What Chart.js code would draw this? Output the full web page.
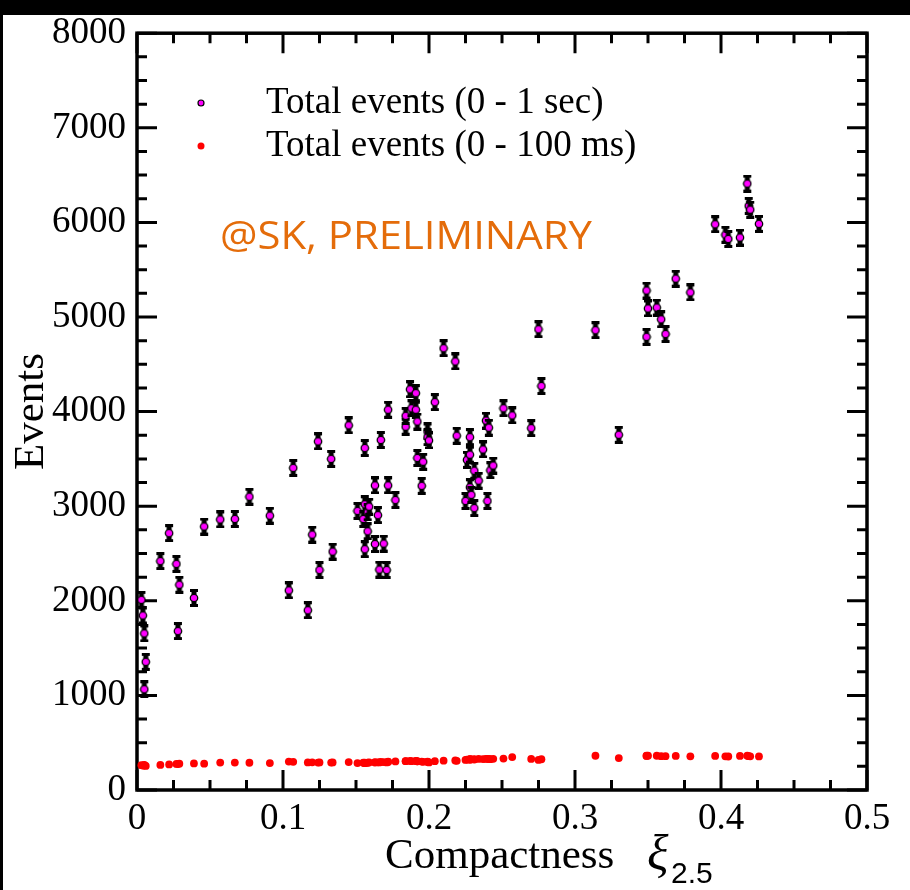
<!DOCTYPE html>
<html>
<head>
<meta charset="utf-8">
<script src="https://cdn.jsdelivr.net/npm/chart.js@4.4.1/dist/chart.umd.min.js"></script>
<style>
  html, body { margin: 0; padding: 0; background: #fff; }
  #wrap { position: relative; width: 910px; height: 890px; overflow: hidden; }
  #myChart { position: absolute; left: 0; top: 0; }
  .bar { position: absolute; background: #000; }
</style>
</head>
<body>
<div id="wrap">
  <canvas id="myChart" width="910" height="890"></canvas>
  <div class="bar" style="left:0;top:0;width:910px;height:15px"></div>
  <div class="bar" style="left:0;top:0;width:3px;height:890px"></div>
</div>
<script>
// compactness xi_2.5 of each model
const compactness = [
  0.003, 0.004, 0.005, 0.006, 0.005, 0.016, 0.022, 0.027, 0.029, 0.028,
  0.039, 0.046, 0.057, 0.067, 0.077, 0.091, 0.104, 0.107, 0.117, 0.120,
  0.124, 0.125, 0.133, 0.134, 0.145, 0.151, 0.155, 0.156, 0.156, 0.156,
  0.158, 0.158, 0.159, 0.163, 0.163, 0.165, 0.166, 0.167, 0.169, 0.171,
  0.172, 0.172, 0.177, 0.184, 0.184, 0.187, 0.188, 0.191, 0.191, 0.192,
  0.192, 0.195, 0.196, 0.199, 0.199, 0.200, 0.204, 0.210, 0.218, 0.219,
  0.225, 0.226, 0.228, 0.228, 0.228, 0.229, 0.231, 0.231, 0.234, 0.237,
  0.239, 0.240, 0.241, 0.242, 0.244, 0.251, 0.257, 0.270, 0.275, 0.277,
  0.314, 0.330, 0.349, 0.349, 0.350, 0.356, 0.359, 0.362, 0.369, 0.379,
  0.396, 0.403, 0.405, 0.413, 0.418, 0.419, 0.420, 0.426
];
// total events 0 - 1 sec
const eventsSec = [
  2010, 1845, 1655, 1355, 1065, 2420, 2715, 2390, 2170, 1680,
  2030, 2785, 2860, 2865, 3100, 2900, 2110, 3405, 1900, 2700,
  3685, 2325, 3500, 2520, 3855, 2950, 2865, 3615, 3020, 2545,
  2935, 2735, 2995, 3220, 2600, 2905, 2330, 3700, 2605, 2325,
  3220, 4020, 3065, 3840, 3955, 4235, 4035, 4195, 4020, 3895,
  3510, 3215, 3470, 3790, 3730, 3695, 4100, 4670, 4530, 3745,
  3055, 3490, 3730, 3545, 3200, 3120, 3375, 2980, 3270, 3600,
  3905, 3055, 3830, 3380, 3430, 4035, 3960, 3825, 4870, 4270,
  4860, 3755, 4790, 5280, 5090, 5100, 4975, 4820, 5405, 5260,
  5980, 5870, 5825, 5840, 6410, 6175, 6135, 5985
];
// total events 0 - 100 ms
const eventsMs = [
  262, 258, 265, 255, 260, 265, 270, 276, 278, 274,
  281, 278, 290, 290, 288, 285, 300, 298, 292, 293,
  290, 292, 290, 291, 295, 285, 288, 290, 286, 284,
  290, 287, 292, 294, 290, 293, 291, 296, 295, 292,
  297, 300, 302, 305, 306, 307, 305, 308, 306, 304,
  303, 300, 298, 296, 300, 292, 305, 310, 312, 308,
  318, 322, 325, 320, 326, 324, 322, 326, 328, 327,
  328, 330, 329, 326, 330, 332, 348, 328, 318, 325,
  362, 338, 362, 360, 363, 362, 358, 358, 360, 356,
  360, 356, 354, 360, 362, 358, 356, 355
];

const xTickValues = [0, 0.1, 0.2, 0.3, 0.4, 0.5];
const xTickLabels = ['0', '0.1', '0.2', '0.3', '0.4', '0.5'];
const yTickValues = [0, 1000, 2000, 3000, 4000, 5000, 6000, 7000, 8000];
const yTickLabels = ['0', '1000', '2000', '3000', '4000', '5000', '6000', '7000', '8000'];

const legendLabels = ['Total events (0 - 1 sec)', 'Total events (0 - 100 ms)'];
const stampText = '@SK, PRELIMINARY';

const SERIF = '"Liberation Serif", "Times New Roman", serif';

// magenta point with black error bar
function makeMarker() {
    const c = document.createElement('canvas');
    c.width = 10;
    c.height = 18;
    const g = c.getContext('2d');
    g.fillStyle = '#000';
    g.fillRect(1, 0, 8, 3);
    g.fillRect(1, 15, 8, 3);
    g.fillRect(2.5, 0, 5, 18);
    g.beginPath();
    g.arc(5, 9, 3.7, 0, Math.PI * 2);
    g.fillStyle = '#ff00ff';
    g.fill();
    g.lineWidth = 1.3;
    g.strokeStyle = '#000';
    g.stroke();
    return c;
}

const framePlugin = {
    id: 'frame',
    beforeDatasetsDraw(chart) {
        const { ctx, chartArea: a, scales: { x, y } } = chart;
        ctx.save();
        ctx.strokeStyle = '#000';
        ctx.lineWidth = 3;
        ctx.lineCap = 'butt';
        ctx.beginPath();
        // x ticks, bottom and top, 3 minors between majors
        for (let i = 0; i < xTickValues.length; i++) {
            const px = x.getPixelForValue(xTickValues[i]);
            ctx.moveTo(px, a.bottom); ctx.lineTo(px, a.bottom - 20);
            ctx.moveTo(px, a.top); ctx.lineTo(px, a.top + 20);
            if (i < xTickValues.length - 1) {
                const step = (xTickValues[i + 1] - xTickValues[i]) / 4;
                for (let k = 1; k < 4; k++) {
                    const mx = x.getPixelForValue(xTickValues[i] + step * k);
                    ctx.moveTo(mx, a.bottom); ctx.lineTo(mx, a.bottom - 10);
                    ctx.moveTo(mx, a.top); ctx.lineTo(mx, a.top + 10);
                }
            }
        }
        for (let i = 0; i < yTickValues.length; i++) {
            const py = y.getPixelForValue(yTickValues[i]);
            ctx.moveTo(a.left, py); ctx.lineTo(a.left + 20, py);
            ctx.moveTo(a.right, py); ctx.lineTo(a.right - 20, py);
            if (i < yTickValues.length - 1) {
                const step = (yTickValues[i + 1] - yTickValues[i]) / 4;
                for (let k = 1; k < 4; k++) {
                    const my = y.getPixelForValue(yTickValues[i] + step * k);
                    ctx.moveTo(a.left, my); ctx.lineTo(a.left + 10, my);
                    ctx.moveTo(a.right, my); ctx.lineTo(a.right - 10, my);
                }
            }
        }
        ctx.stroke();
        ctx.lineWidth = 3.5;
        ctx.strokeRect(a.left, a.top, a.right - a.left, a.bottom - a.top);
        ctx.restore();
    },
    afterDraw(chart) {
        const { ctx } = chart;
        ctx.save();
        // legend
        ctx.beginPath();
        ctx.arc(201, 103, 3, 0, Math.PI * 2);
        ctx.fillStyle = '#ff00ff';
        ctx.fill();
        ctx.lineWidth = 1.2;
        ctx.strokeStyle = '#000';
        ctx.stroke();
        ctx.beginPath();
        ctx.arc(201, 146, 3.5, 0, Math.PI * 2);
        ctx.fillStyle = '#ff0000';
        ctx.fill();
        ctx.fillStyle = '#000';
        ctx.font = '37px ' + SERIF;
        ctx.textBaseline = 'alphabetic';
        ctx.textAlign = 'left';
        ctx.fillText(legendLabels[0], 266, 113);
        ctx.fillText(legendLabels[1], 266, 156);

        // stamp
        ctx.fillStyle = '#e46c0a';
        ctx.font = '38px "Open Sans", "Liberation Sans", sans-serif';
        const w = ctx.measureText(stampText).width;
        ctx.save();
        ctx.translate(220, 249);
        ctx.scale(372 / w, 1);
        ctx.fillText(stampText, 0, 0);
        ctx.restore();

        // x axis title with subscript
        ctx.fillStyle = '#000';
        ctx.font = '43px ' + SERIF;
        ctx.fillText('Compactness', 385, 868);
        ctx.font = 'italic 50px ' + SERIF;
        ctx.fillText('\u03BE', 647, 870);
        ctx.font = '30px "Liberation Sans", Arial, sans-serif';
        ctx.fillText('2.5', 671, 883);
        ctx.restore();
    }
};

const ctx = document.getElementById('myChart');

function buildChart() {
    const secPoints = compactness.map((c, i) => ({ x: c, y: eventsSec[i] }));
    const msPoints = compactness.map((c, i) => ({ x: c, y: eventsMs[i] }));

    new Chart(ctx, {
        type: 'scatter',
        data: {
            datasets: [{
                label: legendLabels[1],
                data: msPoints,
                pointStyle: 'circle',
                pointRadius: 3.9,
                backgroundColor: '#ff0000',
                borderWidth: 0,
            }, {
                label: legendLabels[0],
                data: secPoints,
                pointStyle: makeMarker(),
                pointRadius: 4,
            }]
        },
        options: {
            responsive: false,
            animation: false,
            events: [],
            clip: false,
            layout: {
                padding: { left: 0, right: 43, top: 30, bottom: 0 }
            },
            plugins: {
                legend: { display: false },
                tooltip: { enabled: false },
            },
            scales: {
                x: {
                    type: 'linear',
                    min: 0,
                    max: 0.5,
                    grid: { display: false, drawTicks: false },
                    border: { display: false },
                    afterBuildTicks: s => { s.ticks = xTickValues.map(v => ({ value: v })); },
                    afterFit: s => { s.height = 100; },
                    ticks: {
                        padding: 7,
                        color: '#000',
                        maxRotation: 0,
                        font: { family: SERIF, size: 37 },
                        callback: (v, i) => xTickLabels[i],
                    }
                },
                y: {
                    type: 'linear',
                    min: 0,
                    max: 8000,
                    grid: { display: false, drawTicks: false },
                    border: { display: false },
                    afterBuildTicks: s => { s.ticks = yTickValues.map(v => ({ value: v })); },
                    afterFit: s => { s.width = 137; },
                    title: {
                        display: true,
                        text: 'Events',
                        color: '#000',
                        padding: { top: 6, bottom: 0 },
                        font: { family: SERIF, size: 43 },
                    },
                    ticks: {
                        padding: 11,
                        color: '#000',
                        font: { family: SERIF, size: 37 },
                        callback: (v, i) => yTickLabels[i],
                    }
                }
            }
        },
        plugins: [framePlugin]
    });
}

buildChart();
</script>
</body>
</html>
